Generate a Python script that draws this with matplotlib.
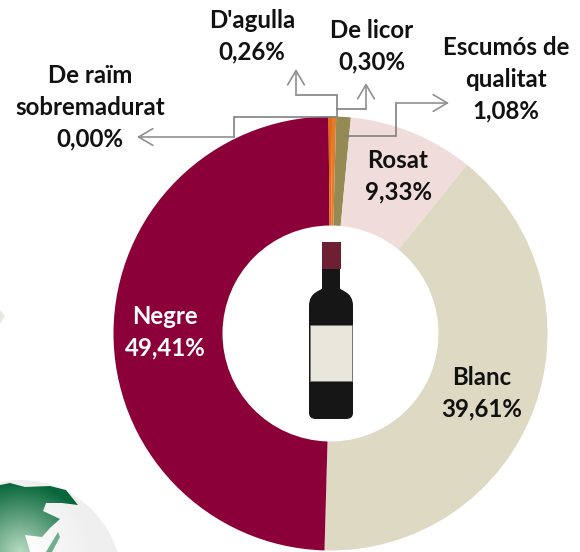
# Wine production by type, doughnut chart with a bottle in the middle.
import matplotlib
matplotlib.use('Agg')
import matplotlib.pyplot as plt
import numpy as np
from matplotlib.patches import Circle, PathPatch, Polygon, Rectangle
from matplotlib.path import Path

# clockwise from the top
categories = ["Escumós de\nqualitat", "Rosat", "Blanc", "Negre", "De raïm\nsobremadurat", "D'agulla", "De licor"]
values = [1.08, 9.33, 39.61, 49.41, 0.00, 0.26, 0.30]
colors = ['#948A54', '#F0DCDB', '#DDD9C3', '#8B0038', '#7F7F7F', '#E46C0A', '#E07B30']

# pixel position of each label centre (first line)
label_x = [506, 398, 482, 165, 90, 252, 372]
label_y = [47, 160, 377, 316, 75, 20, 30]
label_colors = ['#111111', '#111111', '#111111', 'white', '#111111', '#111111', '#111111']

# leader lines in pixels, the last point is the arrow tip
leaders = [
    [(345, 136), (396, 136), (396, 103), (449, 103)],
    [(335, 117), (234, 117), (234, 137), (137, 137)],
    [(337, 117), (337, 95), (296, 95), (296, 69)],
    [(337, 109), (366, 109), (366, 83)],
]

W, H = 580, 552
plt.rcParams['font.family'] = ['Lato', 'DejaVu Sans']


def py(y):
    # picture y (down) to axes y (up)
    return H - y


fig = plt.figure(figsize=(W / 100, H / 100), dpi=100)
ax = fig.add_axes([0, 0, 1, 1])

# globe in the bottom left corner, shaded with a soft gradient
gx, gy = np.meshgrid(np.linspace(0, 125, 125), np.linspace(470, 552, 82))
glow = np.clip(np.hypot(gx - 20, gy - 552) / 70, 0, 1)[..., None]
sphere_img = np.array([1.0, 1.0, 1.0]) * (1 - glow) + np.array([0.94, 0.94, 0.94]) * glow
land_img = np.array([0.72, 0.86, 0.76]) * (1 - glow) + np.array([0.03, 0.40, 0.23]) * glow
globe = Circle((20, py(582)), 102, transform=ax.transData)
im = ax.imshow(sphere_img, extent=(0, 125, py(552), py(470)), zorder=1, aspect='auto')
im.set_clip_path(globe)
land = Polygon([(0, py(485)), (10, py(483)), (25, py(487)), (50, py(486)), (66, py(490)), (78, py(505)),
                (62, py(503)), (46, py(503)), (43, py(511)), (60, py(519)), (50, py(528)), (42, py(537)),
                (25, py(535)), (30, py(552)), (0, py(552))], transform=ax.transData)
im2 = ax.imshow(land_img, extent=(0, 125, py(552), py(470)), zorder=2, aspect='auto')
im2.set_clip_path(land)
ax.add_patch(Polygon([(46, py(552)), (58, py(532)), (60, py(537)), (52, py(552))],
                     facecolor='#6FAE8C', edgecolor='none', zorder=3))
ax.add_patch(Polygon([(0, py(310)), (5, py(316)), (0, py(324))], facecolor='#E8E8E0', edgecolor='none', zorder=1))

# doughnut
ax.pie(values, colors=colors, startangle=88.5, counterclock=False,
       center=(330.5, py(333.5)), radius=217,
       wedgeprops=dict(width=109, edgecolor='none', zorder=4), frame=True)

# leader lines
for pts in leaders:
    xs = [p[0] for p in pts]
    ys = [py(p[1]) for p in pts]
    ax.plot(xs[:-1], ys[:-1], color='#808080', lw=1.2, zorder=6, solid_joinstyle='miter')
    ax.annotate('', xy=(xs[-1], ys[-1]), xytext=(xs[-2], ys[-2]), zorder=6,
                arrowprops=dict(arrowstyle='->,head_length=0.68,head_width=0.4', color='#909090',
                                lw=1.2, shrinkA=0, shrinkB=0, mutation_scale=15))

# labels
for name, v, x, y, c in zip(categories, values, label_x, label_y, label_colors):
    text = name + '\n' + f'{v:.2f}'.replace('.', ',') + '%'
    ax.text(x, py(y - 11), text, ha='center', va='top', fontsize=17.3, fontweight='bold',
            color=c, linespacing=1.46, zorder=7)

# bottle
bottle = Path([(322, py(288)), (322, py(291)), (309, py(291)), (309, py(306)), (309, py(413)),
               (309, py(419)), (316, py(419)), (346, py(419)), (353, py(419)), (353, py(413)),
               (353, py(306)), (353, py(291)), (340, py(291)), (340, py(288)), (322, py(288))],
              [Path.MOVETO, Path.CURVE4, Path.CURVE4, Path.CURVE4, Path.LINETO,
               Path.CURVE3, Path.CURVE3, Path.LINETO, Path.CURVE3, Path.CURVE3,
               Path.LINETO, Path.CURVE4, Path.CURVE4, Path.CURVE4, Path.CLOSEPOLY])
ax.add_patch(PathPatch(bottle, facecolor='#161616', edgecolor='none', zorder=5))
ax.add_patch(Rectangle((322, py(292)), 18, 50, facecolor='#161616', edgecolor='none', zorder=5))
ax.add_patch(Rectangle((322, py(269)), 19, 27, facecolor='#6E1F33', edgecolor='none', zorder=6))
ax.add_patch(Rectangle((310, py(381)), 42, 56, facecolor='#E9E6DC', edgecolor='#777777', lw=0.6, zorder=6))

ax.set_xlim(0, W)
ax.set_ylim(0, H)
ax.set_xticks([])
ax.set_yticks([])
ax.axis('off')
fig.savefig('out.png', dpi=100)
